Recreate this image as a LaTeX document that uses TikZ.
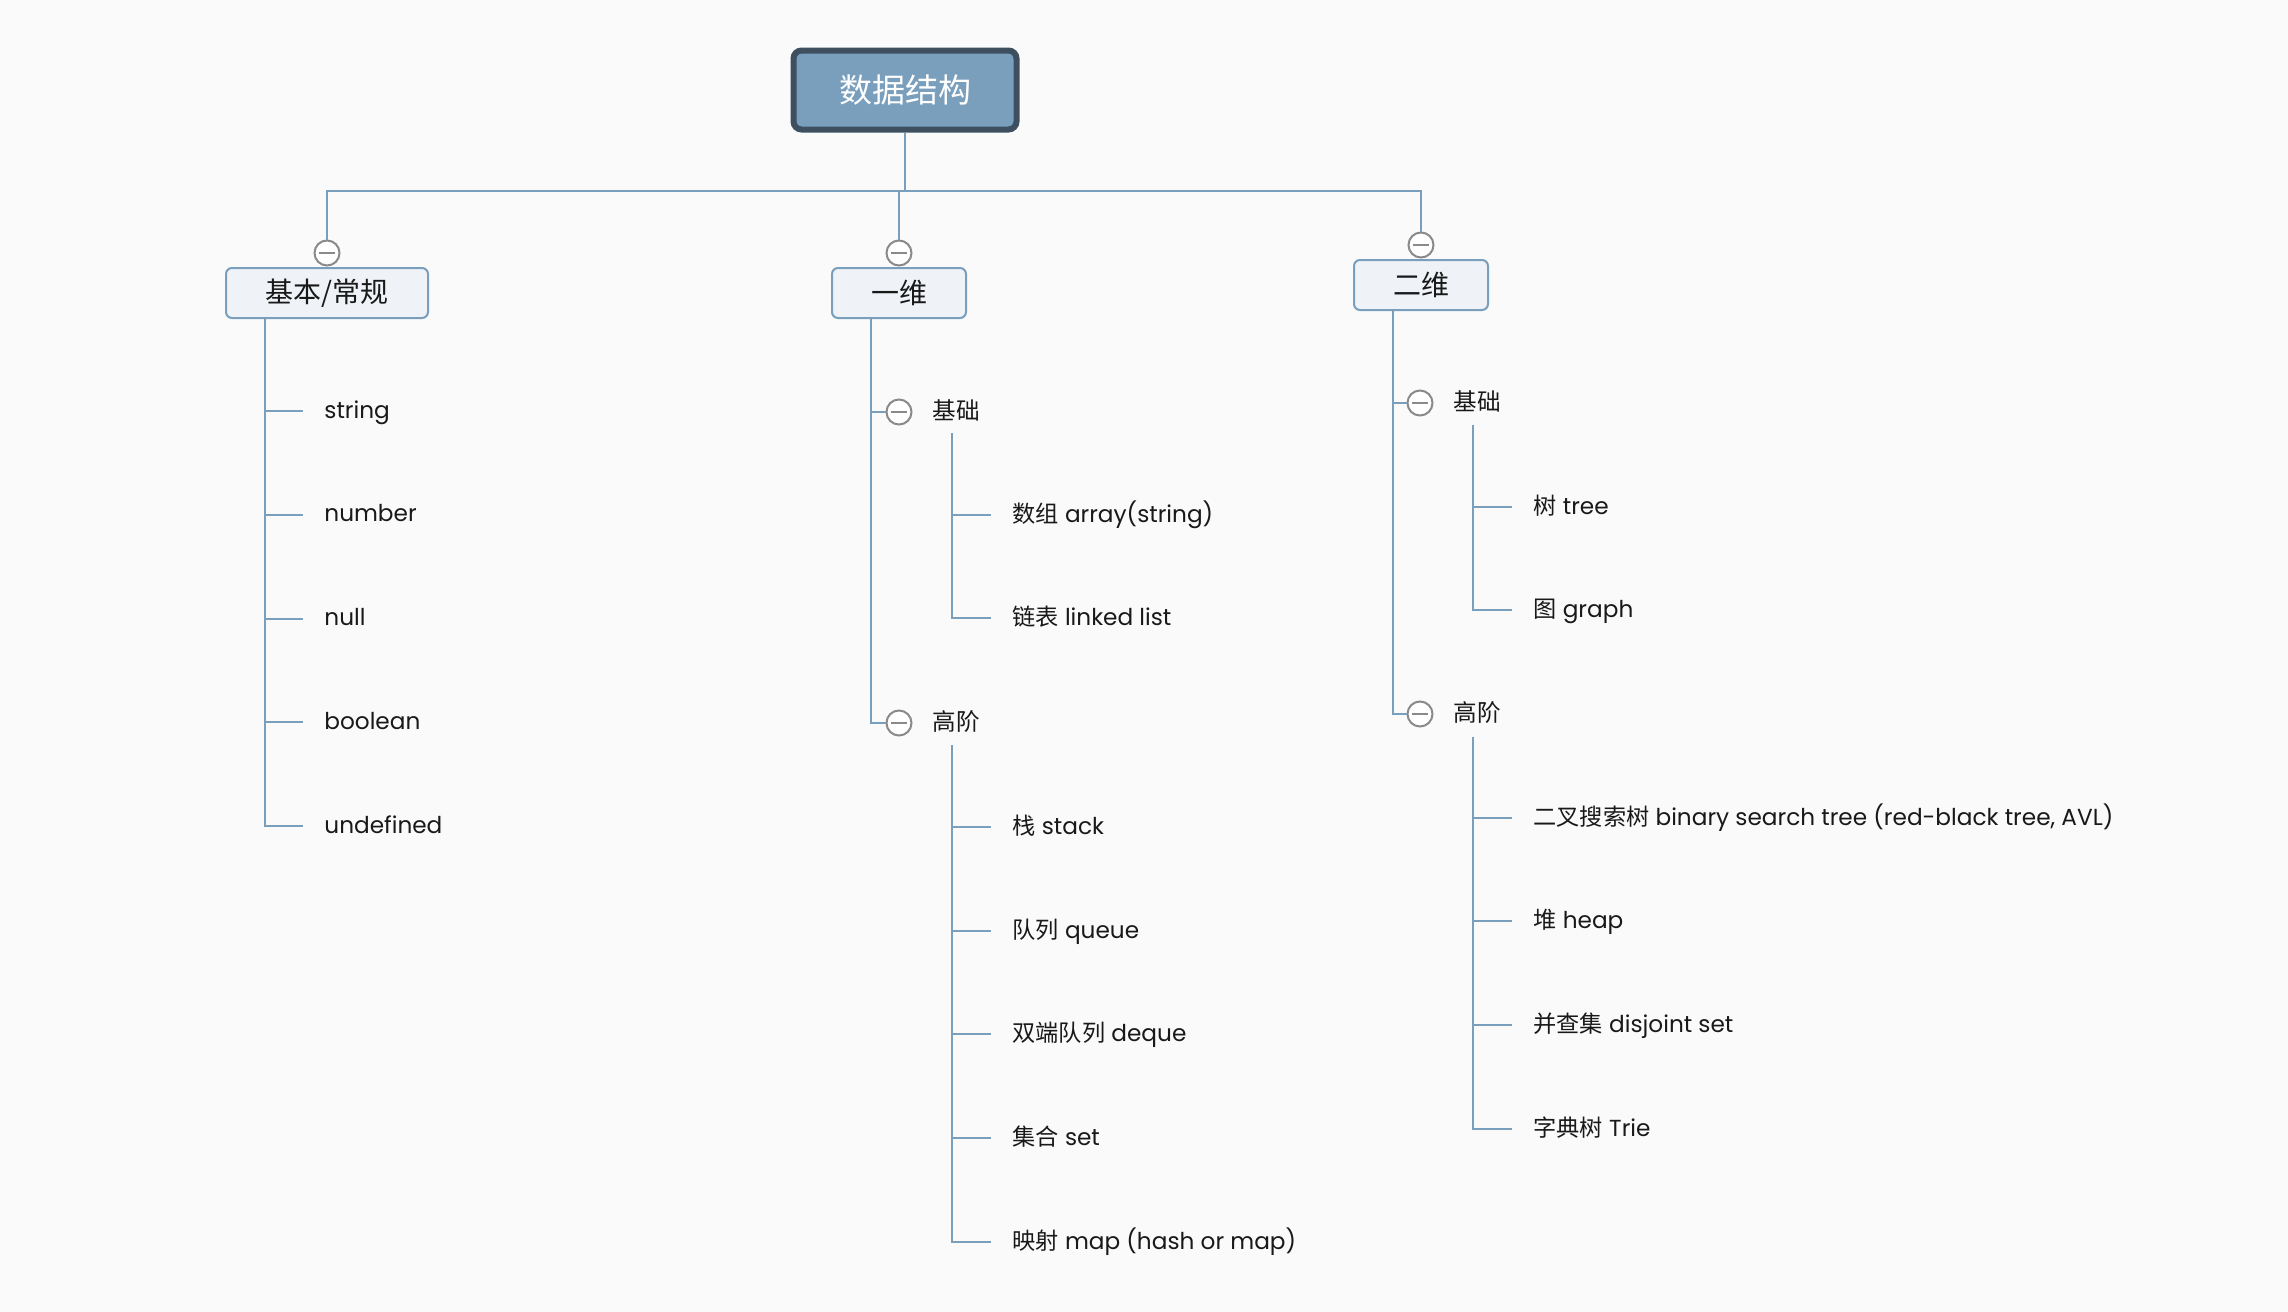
\documentclass[tikz,border=0pt]{standalone}
\usepackage{fontspec}
\setmainfont{Poppins}
\newfontfamily\cjk{Noto Sans CJK SC}
\usetikzlibrary{positioning, calc}
\definecolor{bgclr}{RGB}{250,250,250}
\definecolor{lineclr}{RGB}{122,159,189}
\definecolor{rootfill}{RGB}{122,159,189}
\definecolor{rootdraw}{RGB}{62,80,96}
\definecolor{boxfill}{RGB}{239,243,247}
\definecolor{toggleclr}{RGB}{138,138,138}
\definecolor{txtclr}{RGB}{25,25,25}
\tikzset{
  % Central topic
  rootbox/.style  = {draw=rootdraw, fill=rootfill, line width=3pt, rounded corners=4pt,
                     minimum width=111.5pt, minimum height=39.5pt, inner sep=0pt,
                     text=white, font=\cjk\fontsize{16.5}{19}\selectfont},
  % Main topics
  mainbox/.style  = {draw=lineclr, fill=boxfill, line width=1pt, rounded corners=3pt,
                     minimum height=25pt, inner sep=0pt,
                     text=txtclr, font=\cjk\fontsize{14}{16}\selectfont},
  % Collapse buttons
  toggle/.style   = {circle, draw=toggleclr, fill=white, line width=1pt,
                     minimum size=12.5pt, inner sep=0pt,
                     path picture={\draw[toggleclr, line width=1pt]
                       ([xshift=-4.2pt]path picture bounding box.center) --
                       ([xshift=4.2pt]path picture bounding box.center);}},
  % Sub topics and leaves
  subtopic/.style = {anchor=west, inner sep=0pt, text height=9pt, text depth=2pt,
                     text=txtclr, font=\cjk\fontsize{11.8}{14}\selectfont},
  leaf/.style     = {anchor=west, inner xsep=10.5pt, inner ysep=0pt,
                     text height=9pt, text depth=2pt,
                     text=txtclr, font=\fontsize{11.6}{14}\selectfont},
  branch/.style   = {draw=lineclr, line width=1pt},
}

\begin{document}
\begin{tikzpicture}[x=0.5pt, y=-0.5pt]
  \fill[bgclr] (0,0) rectangle (2288,1312);
  % Central topic
  \node[rootbox] (root) at (905,90) {数据结构};
  \coordinate (bus) at (905,191);
  \draw[branch] (root.south) -- (bus);
  % Main topics
  \node[toggle] (t1) at (327,253) {};
  \node[mainbox, minimum width=101pt] (basic) at (327,293) {基本/常规};
  \node[toggle] (t2) at (899,253) {};
  \node[mainbox, minimum width=67pt] (linear) at (899,293) {一维};
  \node[toggle] (t3) at (1421,245) {};
  \node[mainbox, minimum width=67pt] (nonlinear) at (1421,285) {二维};
  \draw[branch] (bus) -| (t1.north);
  \draw[branch] (bus) -| (t2.north);
  \draw[branch] (bus) -| (t3.north);

  % 基本/常规
  \coordinate (s1) at (265,318);
  \foreach \name/\txt [count=\i from 0] in
      {string/string, number/number, null/null, boolean/boolean, undefined/undefined} {
    \node[leaf] (\name) at (303,411+103.75*\i) {\txt};
    \draw[branch] (s1) |- (\name.west);
  }

  % 一维
  \coordinate (s2) at (871,318);
  \node[toggle] (t21) at (899,412) {};
  \node[subtopic] (base1) at (932,412) {基础};
  \node[toggle] (t22) at (899,723) {};
  \node[subtopic] (high1) at (932,723) {高阶};
  \draw[branch] (s2) |- (t21.west);
  \draw[branch] (s2) |- (t22.west);
  \coordinate (s21) at (952,433);
  \node[leaf] (array) at (991,515) {{\cjk 数组} array(string)};
  \node[leaf] (list) at (991,618) {{\cjk 链表} linked list};
  \foreach \name in {array, list}
    \draw[branch] (s21) |- (\name.west);
  \coordinate (s22) at (952,745);
  \node[leaf] (stack) at (991,827) {{\cjk 栈} stack};
  \node[leaf] (queue) at (991,931) {{\cjk 队列} queue};
  \node[leaf] (deque) at (991,1034) {{\cjk 双端队列} deque};
  \node[leaf] (set) at (991,1138) {{\cjk 集合} set};
  \node[leaf] (map) at (991,1242) {{\cjk 映射} map (hash or map)};
  \foreach \name in {stack, queue, deque, set, map}
    \draw[branch] (s22) |- (\name.west);

  % 二维
  \coordinate (s3) at (1393,310);
  \node[toggle] (t31) at (1420,403) {};
  \node[subtopic] (base2) at (1453,403) {基础};
  \node[toggle] (t32) at (1420,714) {};
  \node[subtopic] (high2) at (1453,714) {高阶};
  \draw[branch] (s3) |- (t31.west);
  \draw[branch] (s3) |- (t32.west);
  \coordinate (s31) at (1473,425);
  \node[leaf] (tree) at (1512,507) {{\cjk 树} tree};
  \node[leaf] (graph) at (1512,610) {{\cjk 图} graph};
  \foreach \name in {tree, graph}
    \draw[branch] (s31) |- (\name.west);
  \coordinate (s32) at (1473,737);
  \node[leaf] (bst) at (1512,818) {{\cjk 二叉搜索树} binary search tree (red-black tree, AVL)};
  \node[leaf] (heap) at (1512,921) {{\cjk 堆} heap};
  \node[leaf] (dsu) at (1512,1025) {{\cjk 并查集} disjoint set};
  \node[leaf] (trie) at (1512,1129) {{\cjk 字典树} Trie};
  \foreach \name in {bst, heap, dsu, trie}
    \draw[branch] (s32) |- (\name.west);
\end{tikzpicture}
\end{document}
